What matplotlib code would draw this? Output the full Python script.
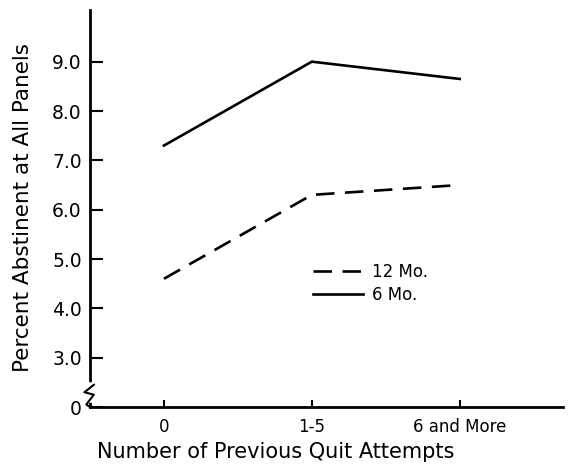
import matplotlib.pyplot as plt

# data
attempts = ['0', '1-5', '6 and More']
abstinent_12mo = [4.6, 6.3, 6.5]
abstinent_6mo = [7.3, 9.0, 8.65]
y_ticks = [2.0, 3.0, 4.0, 5.0, 6.0, 7.0, 8.0, 9.0]
y_labels = ['0', '3.0', '4.0', '5.0', '6.0', '7.0', '8.0', '9.0']

plt.rcParams['font.family'] = ['DejaVu Sans']

fig = plt.figure(figsize=(5.7, 4.7), dpi=100)
ax = fig.add_axes([0.158, 0.134, 0.83, 0.845])

x = range(len(attempts))
ax.plot(x, abstinent_12mo, color='black', lw=1.9, dashes=(7, 4), label='12 Mo.')
ax.plot(x, abstinent_6mo, color='black', lw=1.9, label='6 Mo.')

ax.set_xlim(-0.5, 2.7)
ax.set_ylim(2.0, 10.05)
ax.set_xticks(list(x))
ax.set_xticklabels(attempts, fontsize=12)
ax.set_yticks(y_ticks)
ax.set_yticklabels(y_labels, fontsize=13.5)

for s in ['top', 'right']:
    ax.spines[s].set_visible(False)
ax.spines['left'].set_linewidth(2)
ax.spines['bottom'].set_linewidth(2)
ax.tick_params(axis='y', direction='in', length=9, width=1.5, pad=6)
ax.tick_params(axis='x', direction='in', length=5, width=1.5, pad=8)

# axis break mark on the y axis
ax.plot([0, 0], [2.15, 2.45], color='white', lw=4, clip_on=False, zorder=5,
        transform=ax.get_yaxis_transform())
ax.plot([0.008, -0.012, 0.008, -0.008, 0.0], [2.45, 2.3, 2.25, 2.05, 2.0], color='black', lw=1.5,
        clip_on=False, zorder=6, transform=ax.get_yaxis_transform())

fig.text(23 / 570, 1 - 208 / 470, 'Percent Abstinent at All Panels', fontsize=15.5,
         rotation=90, ha='center', va='center')
fig.text(276 / 570, 1 - 452 / 470, 'Number of Previous Quit Attempts', fontsize=15,
         ha='center', va='center')

ax.legend(loc='upper left', bbox_to_anchor=(0.44, 0.40), frameon=False, fontsize=12,
          handlelength=3.0, handletextpad=0.5, labelspacing=0.3)

fig.savefig('out.png', dpi=100)
